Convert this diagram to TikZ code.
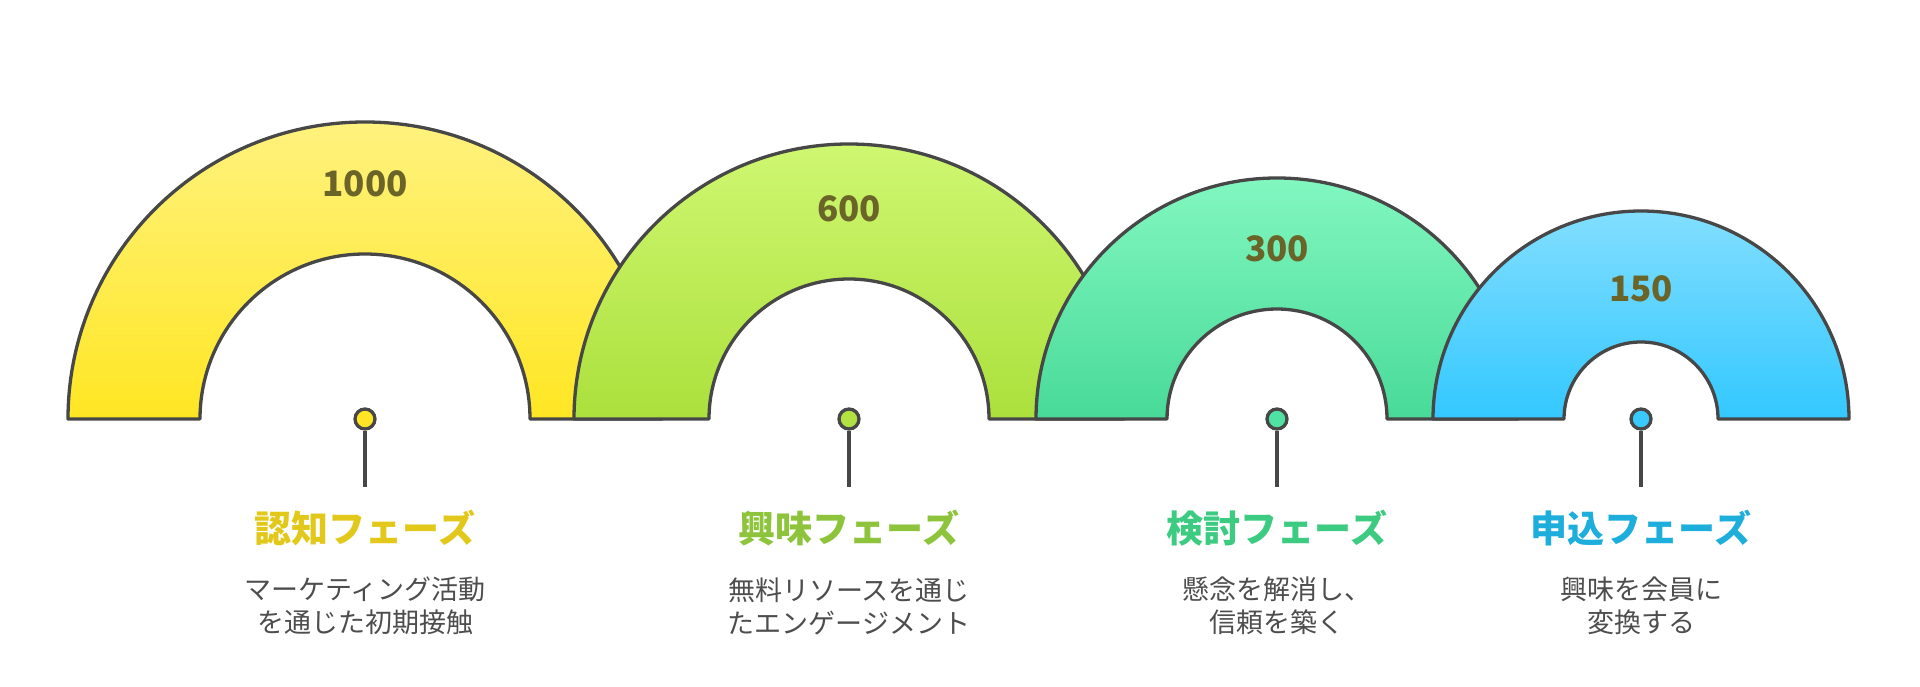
\documentclass[tikz,border=0pt]{standalone}
\usepackage{fontspec}
\setmainfont{Noto Sans CJK JP}
\definecolor{strokec}{HTML}{474747}
\definecolor{numc}{HTML}{6B6429}
\definecolor{descc}{HTML}{4D4D4D}
\definecolor{yTop}{HTML}{FFF27E}
\definecolor{yBot}{HTML}{FFE623}
\definecolor{gTop}{HTML}{CFF771}
\definecolor{gBot}{HTML}{ABE03C}
\definecolor{tTop}{HTML}{82F7C0}
\definecolor{tBot}{HTML}{48DA98}
\definecolor{bTop}{HTML}{82DEFF}
\definecolor{bBot}{HTML}{33C8FF}
\definecolor{yTitle}{HTML}{E2C81A}
\definecolor{gTitle}{HTML}{8DC43C}
\definecolor{tTitle}{HTML}{3CCB80}
\definecolor{bTitle}{HTML}{1EAEDC}
\definecolor{yPin}{HTML}{FFE526}
\definecolor{gPin}{HTML}{B2E142}
\definecolor{tPin}{HTML}{4FE2A2}
\definecolor{bPin}{HTML}{38C9FF}
\tikzset{
  ring/.style={draw=strokec, line width=3.3pt, line join=round},
  pinstem/.style={draw=strokec, line width=3.3pt},
  pindot/.style={circle, draw=strokec, line width=3.3pt, minimum size=20pt, inner sep=0pt},
  numlabel/.style={font=\fontsize{35}{40}\selectfont\bfseries, text=numc, inner sep=0pt},
  titlelabel/.style={font=\fontsize{37}{40}\selectfont\bfseries, inner sep=0pt},
  desclabel/.style={font=\fontsize{27}{33}\selectfont, text=descc, align=center, inner sep=0pt},
}
\begin{document}
\begin{tikzpicture}[x=1pt,y=1pt]
\useasboundingbox (0,0) rectangle (1920,686);
% rings
\shade[ring, top color=yTop, bottom color=yBot]
  (68,267) arc[start angle=180,end angle=0,radius=297] -- (530,267)
  arc[start angle=0,end angle=180,radius=165] -- cycle;
\shade[ring, top color=gTop, bottom color=gBot]
  (574,267) arc[start angle=180,end angle=0,radius=275] -- (989,267)
  arc[start angle=0,end angle=180,radius=140] -- cycle;
\shade[ring, top color=tTop, bottom color=tBot]
  (1036,267) arc[start angle=180,end angle=0,radius=241] -- (1387,267)
  arc[start angle=0,end angle=180,radius=110] -- cycle;
\shade[ring, top color=bTop, bottom color=bBot]
  (1433,267) arc[start angle=180,end angle=0,radius=208] -- (1718,267)
  arc[start angle=0,end angle=180,radius=77] -- cycle;
% numbers
\node[numlabel] (n1) at (365,502) {1000};
\node[numlabel] (n2) at (849,477) {600};
\node[numlabel] (n3) at (1277,437) {300};
\node[numlabel] (n4) at (1641,397) {150};
% pins
\coordinate (e1) at (365,199);
\coordinate (e2) at (849,199);
\coordinate (e3) at (1277,199);
\coordinate (e4) at (1641,199);
\node[pindot, fill=yPin] (p1) at (365,267) {};
\node[pindot, fill=gPin] (p2) at (849,267) {};
\node[pindot, fill=tPin] (p3) at (1277,267) {};
\node[pindot, fill=bPin] (p4) at (1641,267) {};
\draw[pinstem] (p1.south) -- (e1);
\draw[pinstem] (p2.south) -- (e2);
\draw[pinstem] (p3.south) -- (e3);
\draw[pinstem] (p4.south) -- (e4);
% titles
\node[titlelabel, text=yTitle] (t1) at (365,158) {認知フェーズ};
\node[titlelabel, text=gTitle] (t2) at (849,158) {興味フェーズ};
\node[titlelabel, text=tTitle] (t3) at (1277,158) {検討フェーズ};
\node[titlelabel, text=bTitle] (t4) at (1641,158) {申込フェーズ};
% descriptions
\node[desclabel] (d1) at (365,80) {マーケティング活動\\を通じた初期接触};
\node[desclabel] (d2) at (849,80) {無料リソースを通じ\\たエンゲージメント};
\node[desclabel] (d3) at (1277,80) {懸念を解消し、\\信頼を築く};
\node[desclabel] (d4) at (1641,80) {興味を会員に\\変換する};
\end{tikzpicture}
\end{document}
